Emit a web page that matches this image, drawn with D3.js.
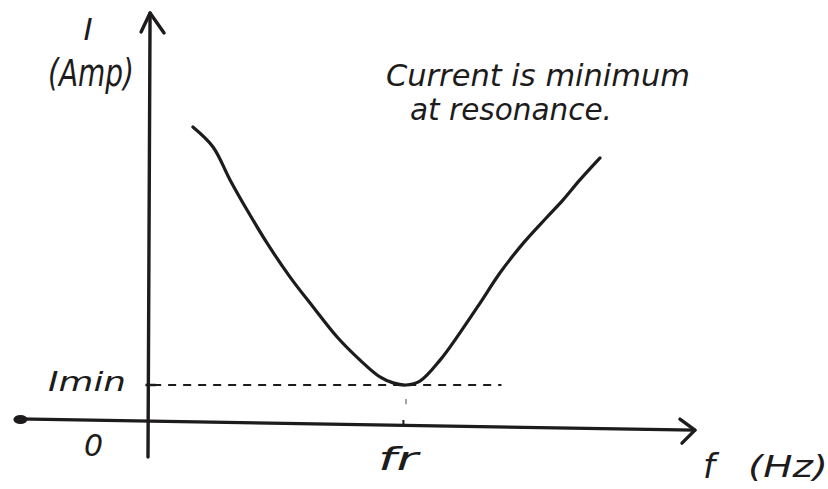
<!DOCTYPE html>
<html>
<head>
<meta charset="utf-8">
<script src="https://cdn.jsdelivr.net/npm/d3@7"></script>
<style>
  html, body { margin: 0; padding: 0; background: #fff; }
  svg { display: block; }
  text { font-family: "DejaVu Sans", sans-serif; font-style: italic; fill: #1d1b1c; }
</style>
</head>
<body>
<svg id="chart" width="828" height="489"></svg>
<script>
// Frequency in units of the resonant frequency fr, current in units of Imin.
const freq    = [0.174, 0.252, 0.318, 0.384, 0.461, 0.550, 0.640, 0.733, 0.822, 0.899, 0.950, 1.000, 1.054, 1.132, 1.209, 1.287, 1.364, 1.453, 1.547, 1.609, 1.674, 1.752];
const current = [8.37, 7.80, 6.86, 6.00, 5.06, 4.09, 3.23, 2.37, 1.71, 1.23, 1.06, 1.00, 1.11, 1.71, 2.49, 3.34, 4.20, 5.04, 5.80, 6.29, 6.86, 7.49];

const fr = 1.0;     // resonant frequency
const Imin = 1.0;   // current at resonance

// Extents of the hand-drawn axes (f, I)
const xAxisEnds = [[-0.51, 0.03], [2.12, -0.29]];
const yAxisEnds = [[0.008, 11.63], [0.0, -1.06]];
const dashEnd = 1.37;

const notes = ["Current is minimum", "at resonance."];

const svg = d3.select("#chart");
const ink = "#1d1b1c";

const x = d3.scaleLinear().domain([0, 1]).range([148, 406]);
const y = d3.scaleLinear().domain([0, 1]).range([420, 385]);

const line = d3.line().x(d => x(d[0])).y(d => y(d[1]));

// x axis with arrow
svg.append("path")
  .attr("d", line(xAxisEnds))
  .attr("fill", "none").attr("stroke", ink).attr("stroke-width", 3.2).attr("stroke-linecap", "round");
const xt = [x(xAxisEnds[1][0]), y(xAxisEnds[1][1])];
svg.append("path")
  .attr("d", `M${xt[0]-15},${xt[1]-11} L${xt[0]},${xt[1]} L${xt[0]-13},${xt[1]+13}`)
  .attr("fill", "none").attr("stroke", ink).attr("stroke-width", 3.4)
  .attr("stroke-linecap", "round").attr("stroke-linejoin", "round");
// blob at the left end of the x axis
svg.append("ellipse")
  .attr("cx", x(xAxisEnds[0][0]) + 4).attr("cy", y(xAxisEnds[0][1]) + 0.5)
  .attr("rx", 7).attr("ry", 4.5).attr("fill", ink);

// y axis with arrow
svg.append("path")
  .attr("d", line(yAxisEnds))
  .attr("fill", "none").attr("stroke", ink).attr("stroke-width", 3.4).attr("stroke-linecap", "round");
const yt = [x(yAxisEnds[0][0]), y(yAxisEnds[0][1])];
svg.append("path")
  .attr("d", `M${yt[0]-9},${yt[1]+19} L${yt[0]},${yt[1]} L${yt[0]+14},${yt[1]+20}`)
  .attr("fill", "none").attr("stroke", ink).attr("stroke-width", 3.4)
  .attr("stroke-linecap", "round").attr("stroke-linejoin", "round");

// Imin dashed guide
svg.append("path")
  .attr("d", line([[0.02, Imin], [dashEnd, Imin]]))
  .attr("fill", "none").attr("stroke", ink).attr("stroke-width", 1.8)
  .attr("stroke-dasharray", "8 7");
svg.append("path")
  .attr("d", line([[-0.01, Imin], [0.03, Imin]]))
  .attr("stroke", ink).attr("stroke-width", 2.5);

// small tick marks at fr
svg.append("path")
  .attr("d", line([[fr, 0.45], [fr, 0.6]]))
  .attr("stroke", "#888").attr("stroke-width", 1.5);
svg.append("path")
  .attr("d", line([[fr - 0.01, 0.0], [fr - 0.01, -0.12]]))
  .attr("stroke", ink).attr("stroke-width", 2);

// response curve
svg.append("path")
  .datum(d3.zip(freq, current))
  .attr("d", line.curve(d3.curveCatmullRom.alpha(0.5)))
  .attr("fill", "none").attr("stroke", ink).attr("stroke-width", 3.2)
  .attr("stroke-linecap", "round").attr("stroke-linejoin", "round");

// labels
function label(txt, px, py, size, width, anchor) {
  const t = svg.append("text")
    .attr("x", px).attr("y", py)
    .attr("font-size", size)
    .attr("text-anchor", anchor || "start")
    .text(txt);
  if (width) t.attr("textLength", width).attr("lengthAdjust", "spacingAndGlyphs");
  return t;
}

label("I", 88, 40, 31, null, "middle");
label("(Amp)", 48, 86, 37, 86);
label(notes[0], 386, 86, 31, 304);
label(notes[1], 410, 120, 31, 202);
label("Imin", 48, 391, 27, 78);
label("0", 84, 456, 30, null);
label("fr", x(fr) - 28, 470, 32, 40);
label("f", 703, 478, 34, null);
label("(Hz)", 748, 477, 30, 80);
</script>
</body>
</html>
